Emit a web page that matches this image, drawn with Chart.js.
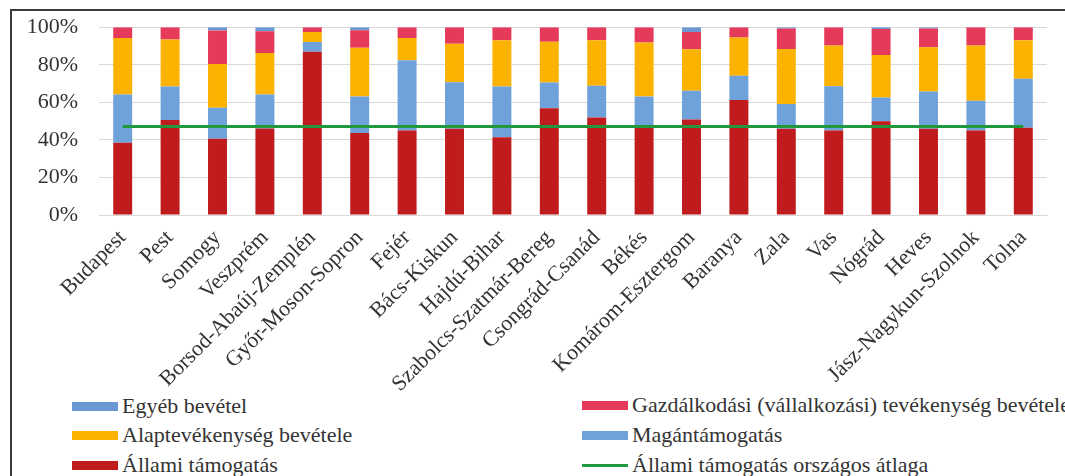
<!DOCTYPE html>
<html lang="hu">
<head>
<meta charset="utf-8">
<script src="https://cdn.jsdelivr.net/npm/chart.js@4/dist/chart.umd.min.js"></script>
<style>
    body { margin: 0; background: #fff; font-family: "Liberation Serif", "Times New Roman", serif; }
    #keret { position: absolute; left: 10px; top: 9px; width: 1070px; height: 480px;
             border-left: 2px solid #3a3a3a; border-top: 2px solid #3a3a3a; }
    #doboz { position: absolute; left: 0; top: -7px; width: 1065px; height: 399px; }
    .jel { position: absolute; font-size: 22px; color: #333; white-space: nowrap; line-height: 22px; }
    .jel span.minta { position: absolute; left: -50px; top: 7px; width: 46px; height: 9px; }
</style>
</head>
<body>
<div id="keret"></div>
<div id="doboz"><canvas id="grafikon"></canvas></div>
<div id="jelmagyarazat"></div>
<script>
// megyek (kategoriak)
const megyek = ['Budapest', 'Pest', 'Somogy', 'Veszprém', 'Borsod-Abaúj-Zemplén', 'Győr-Moson-Sopron',
    'Fejér', 'Bács-Kiskun', 'Hajdú-Bihar', 'Szabolcs-Szatmár-Bereg', 'Csongrád-Csanád', 'Békés',
    'Komárom-Esztergom', 'Baranya', 'Zala', 'Vas', 'Nógrád', 'Heves', 'Jász-Nagykun-Szolnok', 'Tolna'];

const allamiTamogatas   = [38.5, 50.6, 40.6, 46.0, 86.9, 43.7, 45.0, 45.9, 41.4, 56.8, 51.9, 47.5, 50.8, 61.2, 45.9, 45.0, 49.9, 45.9, 45.0, 46.4];
const maganTamogatas    = [25.7, 17.8, 16.5, 18.2, 5.2, 19.4, 37.4, 24.8, 27.0, 13.7, 16.9, 15.6, 15.3, 13.0, 13.2, 23.6, 12.7, 19.9, 15.8, 26.2];
const alaptevekenyseg   = [30.0, 25.1, 23.3, 22.0, 5.4, 25.9, 11.9, 20.5, 24.6, 21.7, 24.3, 28.8, 22.1, 20.3, 29.3, 21.7, 22.6, 23.5, 29.5, 20.5];
const gazdalkodasi      = [5.8, 6.5, 17.8, 11.7, 2.5, 9.4, 5.7, 8.8, 7.0, 7.8, 6.9, 8.1, 9.2, 5.5, 10.9, 9.7, 13.9, 10.0, 9.7, 6.9];
const egyebBevetel      = [0, 0, 1.8, 2.1, 0, 1.6, 0, 0, 0, 0, 0, 0, 2.6, 0, 0.7, 0, 0.9, 0.7, 0, 0];
const orszagosAtlag     = [47.1, 47.1, 47.1, 47.1, 47.1, 47.1, 47.1, 47.1, 47.1, 47.1, 47.1, 47.1, 47.1, 47.1, 47.1, 47.1, 47.1, 47.1, 47.1, 47.1];
const yTickek = [0, 20, 40, 60, 80, 100];

const szinek = {
    allami: '#C01B1D',
    magan: '#6FA1DA',
    alap: '#FBB201',
    gazd: '#E63A5B',
    egyeb: '#6B97D2',
    atlag: '#20993E'
};

function oszlop(cimke, adat, szin) {
    return {
        type: 'bar', label: cimke, data: adat, backgroundColor: szin,
        stack: 'megye', order: 1, categoryPercentage: 1.0, barPercentage: 0.40
    };
}

const betu = { family: '"Liberation Serif", "Times New Roman", serif', size: 22 };

new Chart(document.getElementById('grafikon'), {
    type: 'bar',
    data: {
        labels: megyek,
        datasets: [
            oszlop('Állami támogatás', allamiTamogatas, szinek.allami),
            oszlop('Magántámogatás', maganTamogatas, szinek.magan),
            oszlop('Alaptevékenység bevétele', alaptevekenyseg, szinek.alap),
            oszlop('Gazdálkodási (vállalkozási) tevékenység bevétele', gazdalkodasi, szinek.gazd),
            oszlop('Egyéb bevétel', egyebBevetel, szinek.egyeb),
            {
                type: 'line', label: 'Állami támogatás országos átlaga', data: orszagosAtlag,
                borderColor: szinek.atlag, borderWidth: 3, pointRadius: 0, stack: 'atlag', order: 0
            }
        ]
    },
    options: {
        responsive: true,
        maintainAspectRatio: false,
        animation: false,
        layout: { padding: { left: 26, right: 18, top: 19, bottom: 0 } },
        plugins: { legend: { display: false }, tooltip: { enabled: false } },
        scales: {
            x: {
                stacked: true,
                grid: { display: false },
                border: { color: '#D9D9D9' },
                afterFit: ax => { ax.height = 177; },
                ticks: { color: '#333', font: betu, minRotation: 45, maxRotation: 45, padding: 2 }
            },
            y: {
                stacked: true, min: 0, max: 100,
                afterBuildTicks: ax => { ax.ticks = yTickek.map(v => ({ value: v })); },
                afterFit: ax => { ax.width = 73; },
                grid: { color: '#D9D9D9', drawTicks: false },
                border: { display: false },
                ticks: { color: '#333', font: betu, padding: 21, callback: v => v + '%' }
            }
        }
    }
});

// jelmagyarazat ket oszlopban, mint az eredetin
const jelek = [
    { szoveg: 'Egyéb bevétel', szin: szinek.egyeb, x: 122, y: 395 },
    { szoveg: 'Gazdálkodási (vállalkozási) tevékenység bevétele', szin: szinek.gazd, x: 632, y: 394 },
    { szoveg: 'Alaptevékenység bevétele', szin: szinek.alap, x: 122, y: 424 },
    { szoveg: 'Magántámogatás', szin: szinek.magan, x: 632, y: 424 },
    { szoveg: 'Állami támogatás', szin: szinek.allami, x: 122, y: 454 },
    { szoveg: 'Állami támogatás országos átlaga', szin: szinek.atlag, x: 632, y: 454, vonal: true }
];
const jm = document.getElementById('jelmagyarazat');
jelek.forEach(j => {
    const d = document.createElement('div');
    d.className = 'jel';
    d.style.left = j.x + 'px';
    d.style.top = j.y + 'px';
    const m = document.createElement('span');
    m.className = 'minta';
    m.style.background = j.szin;
    if (j.vonal) { m.style.height = '3px'; m.style.top = '10px'; }
    d.appendChild(m);
    d.appendChild(document.createTextNode(j.szoveg));
    jm.appendChild(d);
});
</script>
</body>
</html>
